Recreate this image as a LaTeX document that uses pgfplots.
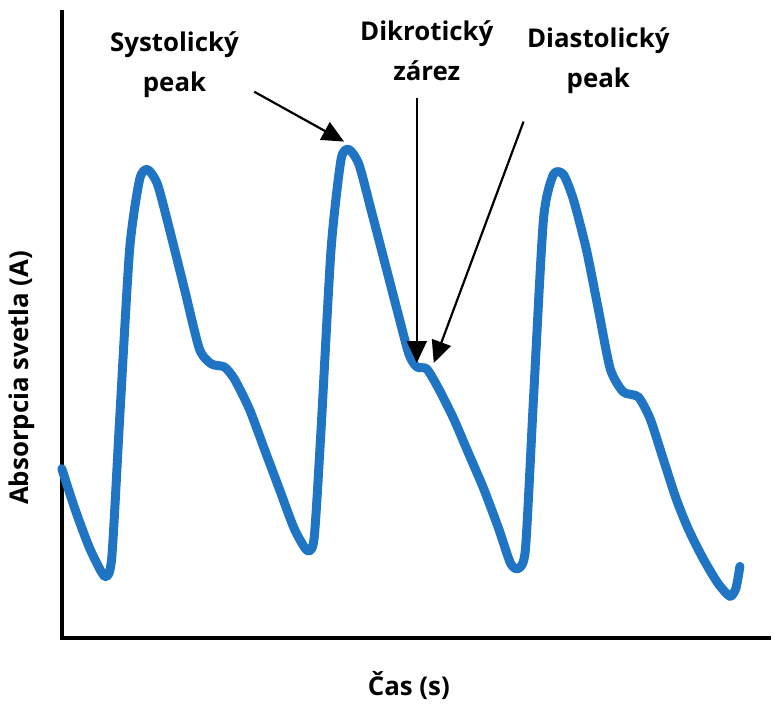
\documentclass[border=0pt]{standalone}
\usepackage{pgfplots}
\pgfplotsset{compat=1.18}
\usepackage{fontspec}
\setmainfont{Open Sans}
\usetikzlibrary{arrows.meta}
\definecolor{ppg}{RGB}{31,117,196}
\begin{document}
\begin{tikzpicture}
\begin{axis}[hide axis, scale only axis, width=386.5bp, height=349.5bp,
  xmin=0, xmax=773, ymin=0, ymax=699, clip=false]
\addplot[draw=none] coordinates {(0,0) (773,699)};
\draw[line width=2.2bp] (axis cs:62,689) -- (axis cs:62,59) -- (axis cs:773,59);
\addplot[ppg, line width=4.5bp, smooth, tension=0.4, line join=round, line cap=round] table[y expr=699-\thisrowno{1}] {
62 470
75 510
90 550
105 578
112 560
120 420
130 250
140 180
148 170
158 185
170 230
185 290
200 350
212 365
225 368
235 380
250 410
265 450
280 490
295 530
308 552
315 540
322 430
332 250
342 160
350 150
360 165
372 210
385 260
398 310
410 355
418 368
428 370
440 390
455 420
470 455
485 490
500 530
512 565
520 570
527 550
535 400
545 220
555 175
565 175
575 200
588 250
600 310
612 370
625 393
640 398
652 420
665 460
678 500
690 530
705 560
720 585
732 598
738 590
742 568
};
\tikzset{ann/.style={font=\bfseries\fontsize{13}{20}\selectfont, align=center}}
\node[ann] at (axis cs:175,634) {Systolický\\peak};
\node[ann] at (axis cs:428,648) {Dikrotický\\zárez};
\node[ann] at (axis cs:600,638) {Diastolický\\peak};
\node[ann, rotate=90] at (axis cs:22,320) {Absorpcia svetla (A)};
\node[ann] at (axis cs:410,12) {Čas (s)};
\draw[line width=1.1bp, -{Triangle[length=11bp,width=10bp]}] (axis cs:255,607) -- (axis cs:345,557);
\draw[line width=1.1bp, -{Triangle[length=11bp,width=10bp]}] (axis cs:418,601) -- (axis cs:418,335);
\draw[line width=1.1bp, -{Triangle[length=11bp,width=10bp]}] (axis cs:525,577) -- (axis cs:435,335);
\end{axis}
\end{tikzpicture}
\end{document}
